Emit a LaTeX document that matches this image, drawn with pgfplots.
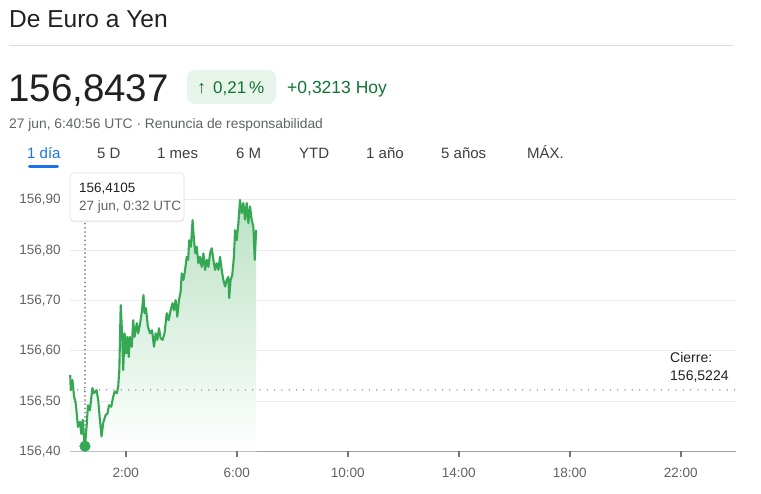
\documentclass[border=0pt]{standalone}
\usepackage{fontspec}
\setmainfont{Liberation Sans}
\usepackage{pgfplots}
\pgfplotsset{compat=1.18}
\usepackage{pgfplotstable}
\usetikzlibrary{shadows}
\definecolor{lineGreen}{HTML}{34A853}
\definecolor{darkGreen}{HTML}{137333}
\definecolor{badge}{HTML}{E6F4EA}
\definecolor{gBlue}{HTML}{1A73E8}
\definecolor{gGrey}{HTML}{5F6368}
\definecolor{tabGrey}{HTML}{3C4043}
\definecolor{gTitle}{HTML}{202124}
\definecolor{sepGrey}{HTML}{DADCE0}
\definecolor{gridGrey}{HTML}{E8EAED}
\definecolor{axGrey}{HTML}{9AA0A6}
\definecolor{tickGrey}{HTML}{70757A}
\definecolor{dotGrey}{HTML}{80868B}

\pgfplotstableread{
h v
0.00 156.552
0.02 156.522
0.08 156.542
0.14 156.509
0.20 156.496
0.28 156.449
0.35 156.459
0.40 156.435
0.45 156.463
0.50 156.425
0.533 156.4105
0.59 156.449
0.64 156.492
0.71 156.482
0.80 156.526
0.86 156.516
0.95 156.522
1.01 156.502
1.07 156.463
1.13 156.430
1.19 156.457
1.28 156.473
1.34 156.475
1.40 156.492
1.48 156.489
1.55 156.509
1.60 156.519
1.68 156.516
1.73 156.529
1.77 156.562
1.82 156.691
1.87 156.635
1.91 156.562
1.96 156.635
2.01 156.595
2.06 156.628
2.11 156.588
2.15 156.628
2.22 156.608
2.27 156.661
2.32 156.628
2.40 156.655
2.45 156.635
2.52 156.655
2.59 156.681
2.64 156.711
2.68 156.675
2.73 156.685
2.80 156.648
2.88 156.635
2.95 156.641
3.02 156.608
3.08 156.635
3.14 156.622
3.20 156.645
3.26 156.625
3.33 156.622
3.40 156.635
3.48 156.675
3.55 156.661
3.62 156.681
3.69 156.695
3.74 156.681
3.80 156.701
3.86 156.668
3.92 156.701
3.98 156.718
4.02 156.754
4.08 156.741
4.14 156.761
4.20 156.787
4.25 156.781
4.29 156.820
4.35 156.807
4.41 156.860
4.46 156.820
4.51 156.794
4.56 156.807
4.62 156.774
4.68 156.787
4.74 156.767
4.80 156.794
4.86 156.761
4.92 156.781
4.98 156.767
5.04 156.794
5.10 156.804
5.16 156.781
5.22 156.761
5.28 156.774
5.34 156.761
5.40 156.787
5.46 156.761
5.52 156.741
5.58 156.728
5.64 156.741
5.70 156.747
5.73 156.705
5.78 156.741
5.84 156.751
5.90 156.787
5.94 156.840
6.00 156.820
6.06 156.854
6.12 156.900
6.18 156.874
6.24 156.894
6.30 156.861
6.36 156.894
6.42 156.854
6.48 156.887
6.54 156.861
6.60 156.847
6.65 156.781
6.70 156.840
}\fx

\begin{document}
\begin{tikzpicture}
\fill[white] (0pt,0pt) rectangle (761pt,494pt);

% header
\node[anchor=base west, inner sep=0pt, text=gTitle, font=\fontsize{24.5}{27}\selectfont] at (9pt,466.3pt) {De Euro a Yen};
\draw[sepGrey, line width=1pt] (9pt,448pt) -- (733pt,448pt);
\node[anchor=base west, inner sep=0pt, text=gTitle, font=\fontsize{38.5}{42}\selectfont] at (8pt,392.3pt) {156,8437};
\fill[badge, rounded corners=8pt] (187pt,390pt) rectangle (276pt,424pt);
\node[anchor=base west, inner sep=0pt, text=darkGreen, font=\fontsize{18}{20}\selectfont] at (197pt,400.7pt) {↑};
\node[anchor=base west, inner sep=0pt, text=darkGreen, font=\fontsize{17}{19}\selectfont] at (213pt,400.7pt) {0,21\,\%};
\node[anchor=base west, inner sep=0pt, text=darkGreen, font=\fontsize{17.5}{19}\selectfont] at (287pt,400.7pt) {+0,3213 Hoy};
\node[anchor=base west, inner sep=0pt, text=gGrey, font=\fontsize{13.8}{16}\selectfont] at (9pt,365.7pt) {27 jun, 6:40:56 UTC · Renuncia de responsabilidad};
\node[anchor=base west, inner sep=0pt, text=gBlue, font=\fontsize{15}{17}\selectfont] at (27pt,335pt) {1 día};
\draw[gBlue, line width=3pt, line cap=round] (29.5pt,327.5pt) -- (57.5pt,327.5pt);
\foreach \xx/\tt in {97/5 D, 157/1 mes, 236/6 M, 299/YTD, 366/1 año, 441/5 años, 527/MÁX.}{
  \node[anchor=base west, inner sep=0pt, text=tabGrey, font=\fontsize{15}{17}\selectfont] at (\xx pt,335pt) {\tt};
}

\begin{axis}[
  at={(70.2pt,42.5pt)}, anchor=south west,
  scale only axis, width=666pt, height=251.5pt,
  xmin=0, xmax=24, ymin=156.40, ymax=156.90,
  axis x line*=bottom, axis y line*=left,
  x axis line style={-, draw=axGrey, line width=1.6pt},
  y axis line style={draw=none},
  ytick={156.4,156.5,156.6,156.7,156.8,156.9},
  xtick={2,6,10,14,18,22},
  xticklabels={2:00,6:00,10:00,14:00,18:00,22:00},
  major tick length=0pt,
  ymajorgrids, grid style={draw=gridGrey, line width=1pt},
  /pgf/number format/assume math mode=true,
  /pgf/number format/fixed,
  /pgf/number format/fixed zerofill,
  /pgf/number format/precision=2,
  /pgf/number format/use comma,
  /pgf/number format/1000 sep={},
  ticklabel style={font=\fontsize{13.5}{15}\selectfont, text=gGrey},
  yticklabel style={xshift=-6pt},
  xticklabel style={yshift=-13pt},
  clip=false,
]
\addplot[draw=none, top color=lineGreen!34, middle color=lineGreen!7, bottom color=white] table[x=h, y=v] {\fx} -- (axis cs:6.70,156.40) -- (axis cs:0,156.40) -- cycle;
\pgfplotsinvokeforeach{2,6,10,14,18,22}{
  \draw[tickGrey, line width=1.8pt] (axis cs:#1,156.40) -- ++(0pt,-5.5pt);
}
\addplot[dotGrey, line width=1.5pt, line cap=round, dash pattern=on 0pt off 7.3pt] coordinates {(0,156.5224) (24,156.5224)};
\addplot[dotGrey, line width=2pt, line cap=round, dash pattern=on 0pt off 4.2pt] coordinates {(0.533,156.4105) (0.533,156.857)};
\addplot[lineGreen, line width=2.1pt, line join=round] table[x=h, y=v] {\fx};
\addplot[only marks, mark=*, mark size=5.3pt, lineGreen] coordinates {(0.533,156.4105)};
\end{axis}

% close label
\node[anchor=base west, inner sep=0pt, text=gTitle, font=\fontsize{14}{16}\selectfont] at (670pt,131pt) {Cierre:};
\node[anchor=base west, inner sep=0pt, text=gTitle, font=\fontsize{14}{16}\selectfont] at (670pt,113pt) {156,5224};

% tooltip
\filldraw[fill=white, draw=black!12, line width=0.6pt, rounded corners=4pt, drop shadow={shadow xshift=0pt, shadow yshift=-1.5pt, opacity=0.12}] (70pt,273pt) rectangle (184pt,321pt);
\node[anchor=base west, inner sep=0pt, text=gTitle, font=\fontsize{13.5}{15}\selectfont] at (79pt,301.3pt) {156,4105};
\node[anchor=base west, inner sep=0pt, text=gGrey, font=\fontsize{13.5}{15}\selectfont] at (79pt,283.3pt) {27 jun, 0:32 UTC};
\end{tikzpicture}
\end{document}
